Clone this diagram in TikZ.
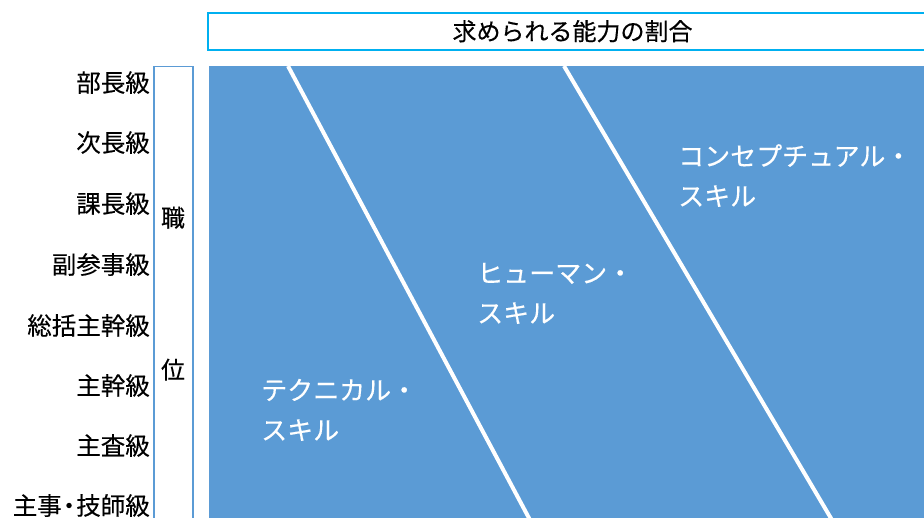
\documentclass[tikz,border=0pt]{standalone}
\usepackage{fontspec}
\newfontfamily\jp[FakeBold=0.3]{Noto Sans CJK JP}
\definecolor{mainblue}{HTML}{5B9BD5}
\definecolor{headcyan}{HTML}{00B0F0}
\begin{document}
\begin{tikzpicture}[x=1pt,y=-1pt,
  rank/.style={anchor=east,inner sep=0pt,yshift=-5pt,font=\jp\fontsize{24.5}{24.5}\selectfont,text height=0.88em,text depth=0.12em},
  vert/.style={inner sep=0pt,yshift=-5pt,font=\jp\fontsize{24}{24}\selectfont,text height=0.88em,text depth=0.12em},
  skill/.style={anchor=west,inner sep=0pt,yshift=-6pt,text=white,font=\jp\fontsize{26}{26}\selectfont,text height=0.88em,text depth=0.12em},
  divider/.style={draw=white,line width=4pt}]
\useasboundingbox (0,0) rectangle (924,517);
\clip (0,0) rectangle (924,517);
% header
\draw[headcyan,line width=2pt,fill=white] (208,13) rectangle (945,50);
\node[vert] (head) at (572.5,31.5) {求められる能力の割合};
% main area
\fill[mainblue] (209,66) rectangle (930,525);
\coordinate (l1t) at (288,66);
\coordinate (l1b) at (530,520);
\coordinate (l2t) at (564,66);
\coordinate (l2b) at (832,520);
\draw[divider] (l1t) -- (l1b);
\draw[divider] (l2t) -- (l2b);
% bracket
\draw[mainblue,line width=1.5pt] (154,525) -- (154,66.5) -- (193,66.5) -- (193,525);
\node[vert] (shoku) at (173,218) {職};
\node[vert] (i) at (173,370) {位};
% rank labels
\node[rank] (r1) at (150,83) {部長級};
\node[rank] (r2) at (150,143) {次長級};
\node[rank] (r3) at (150,204) {課長級};
\node[rank] (r4) at (150,265) {副参事級};
\node[rank] (r5) at (150,326) {総括主幹級};
\node[rank] (r6) at (150,386) {主幹級};
\node[rank] (r7) at (150,446) {主査級};
\node[rank] (r8) at (150,506) {主事\kern-5pt・\kern-5pt 技師級};
% skills
\node[skill] (t1) at (261,390) {テクニカル・};
\node[skill] (t2) at (261,430) {スキル};
\node[skill] (h1) at (477,273) {ヒューマン・};
\node[skill] (h2) at (477,313) {スキル};
\node[skill] (c1) at (678,156) {コンセプチュアル・};
\node[skill] (c2) at (678,196) {スキル};
\end{tikzpicture}
\end{document}
